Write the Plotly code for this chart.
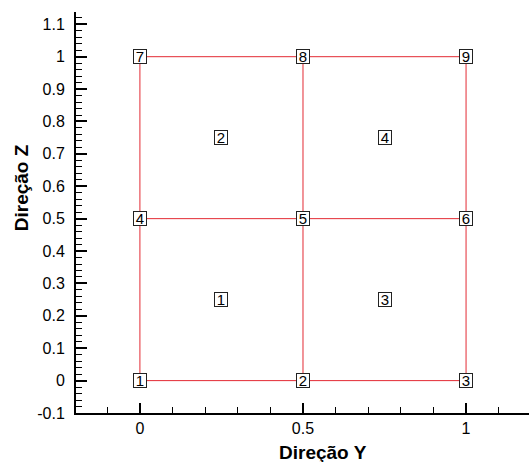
import plotly.graph_objects as go

# Mesh lines
h_lines_y = [0.0, 0.5, 1.0]
v_lines_x = [0.0, 0.5, 1.0]
line_start = 0.0
line_end = 1.0

# Node labels
node_ids = ["1", "2", "3", "4", "5", "6", "7", "8", "9"]
node_y = [0.0, 0.5, 1.0, 0.0, 0.5, 1.0, 0.0, 0.5, 1.0]
node_z = [0.0, 0.0, 0.0, 0.5, 0.5, 0.5, 1.0, 1.0, 1.0]

# Element labels
elem_ids = ["1", "2", "3", "4"]
elem_y = [0.25, 0.25, 0.75, 0.75]
elem_z = [0.25, 0.75, 0.25, 0.75]

x_tickvals = [0, 0.5, 1]
y_tickvals = [-0.1, 0, 0.1, 0.2, 0.3, 0.4, 0.5, 0.6, 0.7, 0.8, 0.9, 1, 1.1]

x_title = "Direção Y"
y_title = "Direção Z"

FONT = "Arial, Liberation Sans, sans-serif"
RED = "#e32a33"

fig = go.Figure()
for yv in h_lines_y:
    fig.add_trace(go.Scatter(x=[line_start, line_end], y=[yv, yv], mode="lines",
                             line=dict(color=RED, width=1), showlegend=False, hoverinfo="skip"))
for xv in v_lines_x:
    fig.add_trace(go.Scatter(x=[xv, xv], y=[line_start, line_end], mode="lines",
                             line=dict(color=RED, width=1), showlegend=False, hoverinfo="skip"))

for t, xv, yv in list(zip(node_ids, node_y, node_z)) + list(zip(elem_ids, elem_y, elem_z)):
    fig.add_annotation(x=xv, y=yv, text=t, showarrow=False,
                       font=dict(family=FONT, size=15, color="black"),
                       bgcolor="white", bordercolor="#222", borderwidth=1, borderpad=0,
                       width=12, height=13)

# Axis titles (placed as annotations to match the original offsets)
fig.add_annotation(xref="paper", yref="paper", x=0.545, y=-0.098, yanchor="middle",
                   text=f"<b>{x_title}</b>", showarrow=False,
                   font=dict(family=FONT, size=19, color="black"))
fig.add_annotation(xref="paper", yref="paper", x=-0.121, xanchor="center",
                   y=0.561, yanchor="middle", textangle=-90,
                   text=f"<b>{y_title}</b>", showarrow=False,
                   font=dict(family=FONT, size=19, color="black"))

fig.update_layout(
    width=529, height=462,
    margin=dict(l=76, r=0, t=12, b=49),
    plot_bgcolor="white", paper_bgcolor="white",
    font=dict(family=FONT, size=16, color="black"),
)
fig.update_xaxes(
    range=[-0.196, 1.193], showgrid=False, zeroline=False,
    showline=True, linecolor="black", linewidth=2,
    tickmode="array", tickvals=x_tickvals, ticktext=["0", "0.5", "1"],
    ticks="inside", ticklen=10, tickwidth=2, tickcolor="black",
    minor=dict(dtick=0.1, tick0=0, ticks="inside", ticklen=6, tickwidth=1, tickcolor="black"),
    tickfont=dict(size=16, color="black"),
    ticklabelstandoff=0,
)
fig.update_yaxes(
    range=[-0.1, 1.138], showgrid=False, zeroline=False,
    showline=True, linecolor="black", linewidth=2,
    tickmode="array", tickvals=y_tickvals, ticktext=[f"{v:g}" for v in y_tickvals],
    ticks="inside", ticklen=11, tickwidth=2, tickcolor="black",
    minor=dict(dtick=0.02, tick0=0, ticks="inside", ticklen=6, tickwidth=1, tickcolor="black"),
    tickfont=dict(size=16, color="black"),
    ticklabelstandoff=6,
)

fig.write_html("out.html")
